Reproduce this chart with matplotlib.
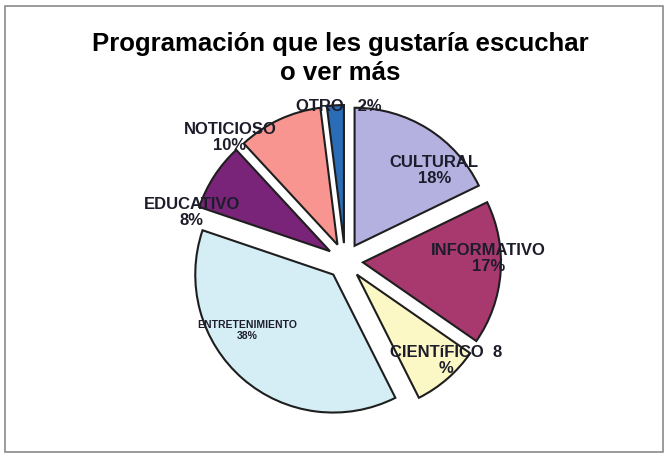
import matplotlib
matplotlib.use("Agg")
import matplotlib.pyplot as plt
import numpy as np
from matplotlib.patches import Rectangle

plt.rcParams['font.family'] = ['Liberation Sans', 'DejaVu Sans']

categorias = ["CULTURAL", "INFORMATIVO", "CIENTíFICO", "ENTRETENIMIENTO",
              "EDUCATIVO", "NOTICIOSO", "OTRO"]
porcentajes = [18, 17, 8, 38, 8, 10, 2]
etiquetas = ["CULTURAL\n18%", "INFORMATIVO\n17%", "CIENTíFICO  8\n%",
             "ENTRETENIMIENTO\n38%", "EDUCATIVO\n8%", "NOTICIOSO\n10%", "OTRO   2%"]
colores = ["#b4b1e0", "#a8396f", "#fcf8c6", "#d5eef6", "#7a2479", "#f99591", "#2a6cb6"]

# label placement: radius and angle offset (deg) from the slice's middle, plus font size
lab_pos = [(0.92, -12.6), (1.04, 5.4), (1.03, 4.5), (0.868, -13.4), (1.165, 15.4), (1.225, 18), (1.12, -1.3)]
lab_size = [12, 12, 12, 7.5, 12, 12, 12]

fig = plt.figure(figsize=(6.7, 4.57), dpi=100)
fig.patches.append(Rectangle((0.008, 0.012), 0.982, 0.975, transform=fig.transFigure,
                             fill=False, edgecolor="#8a8a8a", linewidth=1.2))

fig.text(0.508, 0.872, "Programación que les gustaría escuchar\no ver más",
         ha="center", va="center", fontsize=18.5, fontweight="bold",
         linespacing=1.3)

ax = fig.add_axes([0.2575, 0.0514, 0.515, 0.755])
wedges, _ = ax.pie(porcentajes, colors=colores, startangle=90, counterclock=False,
                   explode=[0.13] * len(porcentajes),
                   wedgeprops=dict(edgecolor="#1e1e1e", linewidth=1.5))

for w, lab, (r, off), fs in zip(wedges, etiquetas, lab_pos, lab_size):
    ang = np.deg2rad((w.theta1 + w.theta2) / 2 + off)
    ax.text(r * np.cos(ang), r * np.sin(ang), lab, ha="center", va="center",
            fontsize=fs, fontweight="bold", color="#1c1c2a", linespacing=1.1)

ax.set_xlim(-1.25, 1.25)
ax.set_ylim(-1.25, 1.25)
ax.set_aspect("equal")
ax.axis("off")

fig.savefig("out.png", dpi=100)
